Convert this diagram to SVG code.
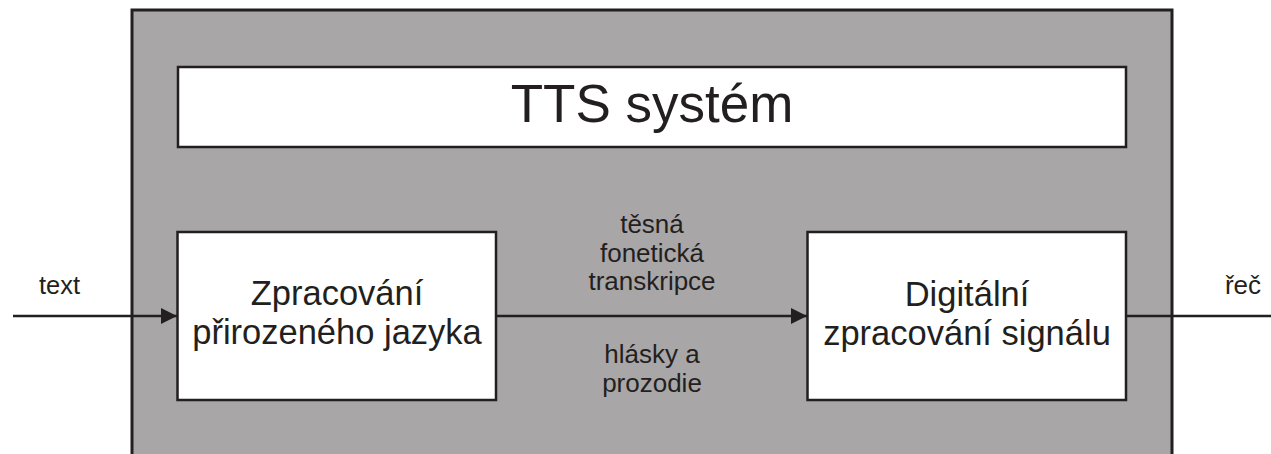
<svg xmlns="http://www.w3.org/2000/svg" width="1271" height="454" viewBox="0 0 1271 454">
  <style>
    .lbl { font-family: "Liberation Sans", Arial, sans-serif; fill: #231f20; text-anchor: middle; }
    .box { fill: #ffffff; stroke: #231f20; stroke-width: 2.5; }
    .conn { stroke: #231f20; stroke-width: 2.5; fill: none; }
  </style>
  <defs>
    <marker id="arrow" markerUnits="userSpaceOnUse" markerWidth="16" markerHeight="16" refX="16" refY="8" orient="auto">
      <path d="M0,0 L16,8 L0,16 z" fill="#231f20"/>
    </marker>
  </defs>
  <rect x="0" y="0" width="1271" height="454" fill="#ffffff"/>
  <g id="tts-system">
    <rect x="132" y="10" width="1040" height="470" fill="#a8a6a7" stroke="#231f20" stroke-width="3"/>
  </g>
  <g id="title">
    <rect class="box" x="178" y="67" width="948" height="80"/>
    <text class="lbl" x="652" y="122" font-size="53">TTS systém</text>
  </g>
  <g id="nlp">
    <rect class="box" x="177.5" y="232" width="318.5" height="168"/>
    <text class="lbl" x="337" y="305" font-size="34.5">Zpracování</text>
    <text class="lbl" x="337" y="344" font-size="34.5">přirozeného jazyka</text>
  </g>
  <g id="dsp">
    <rect class="box" x="807.5" y="232" width="318.5" height="168"/>
    <text class="lbl" x="967" y="306" font-size="34.5">Digitální</text>
    <text class="lbl" x="967" y="345" font-size="34.5">zpracování signálu</text>
  </g>
  <g id="connectors">
    <line class="conn" x1="13" y1="316" x2="177" y2="316" marker-end="url(#arrow)"/>
    <line class="conn" x1="496" y1="316" x2="807" y2="316" marker-end="url(#arrow)"/>
    <line class="conn" x1="1126" y1="316" x2="1271" y2="316"/>
  </g>
  <g id="labels">
    <text class="lbl" x="59.5" y="294" font-size="25.5">text</text>
    <text class="lbl" x="1243" y="294" font-size="26">řeč</text>
    <text class="lbl" x="652" y="233" font-size="26">těsná</text>
    <text class="lbl" x="652" y="262" font-size="26">fonetická</text>
    <text class="lbl" x="652" y="290" font-size="26">transkripce</text>
    <text class="lbl" x="652" y="363" font-size="26">hlásky a</text>
    <text class="lbl" x="652" y="392" font-size="26">prozodie</text>
  </g>
</svg>
